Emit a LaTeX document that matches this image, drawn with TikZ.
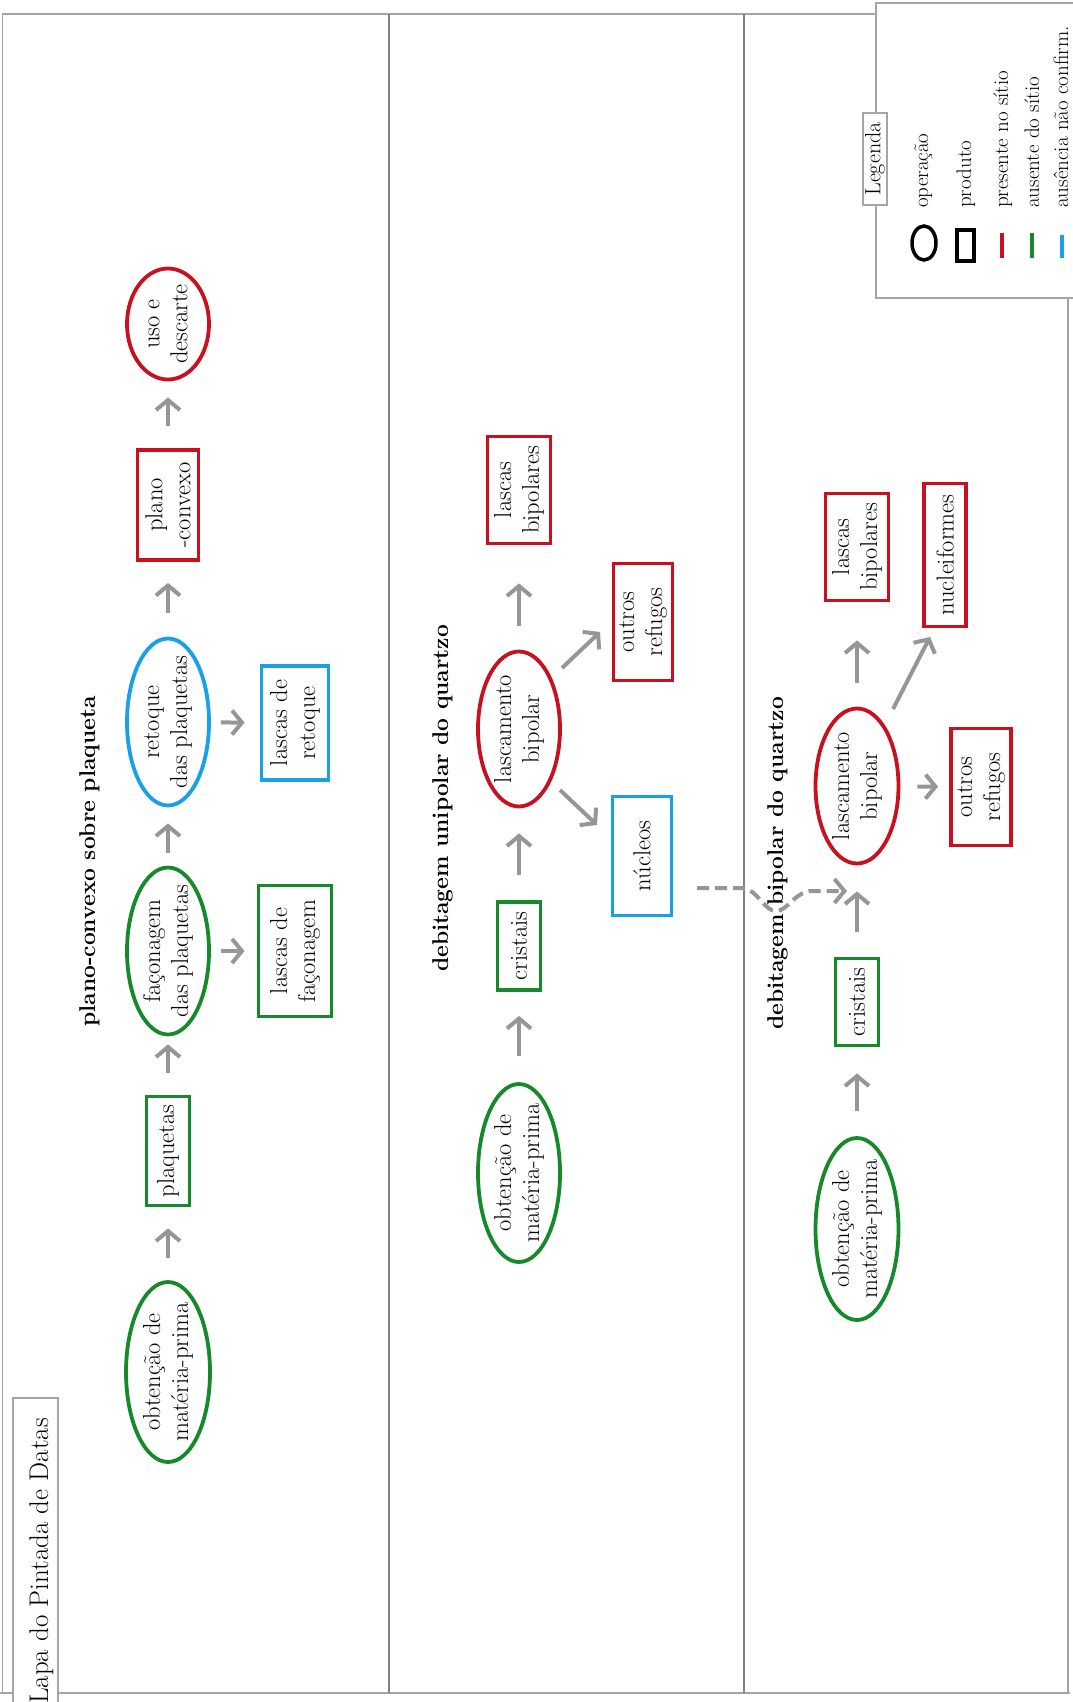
\documentclass[tikz,border=0pt]{standalone}
\usepackage{fontspec}
\usetikzlibrary{shapes.geometric,arrows.meta,calc}
\definecolor{cred}{RGB}{200,16,30}
\definecolor{cgreen}{RGB}{22,138,42}
\definecolor{cblue}{RGB}{25,160,230}
\definecolor{arrgray}{RGB}{150,150,150}
\definecolor{framegray}{RGB}{165,165,165}
\definecolor{divgray}{RGB}{130,130,130}
\newcommand\fbody{\fontsize{24.5}{28}\selectfont}
\newcommand\flegend{\fontsize{21}{25}\selectfont}
\newcommand\fsec{\fontsize{22.8}{27}\selectfont\bfseries}
\newcommand\ftitle{\fontsize{27}{31}\selectfont}
\tikzset{
  op/.style={ellipse, draw=#1, line width=3.8pt, rotate=90, align=center, inner xsep=-12pt, inner ysep=-4pt, font=\fbody},
  prod/.style={rectangle, draw=#1, line width=3.8pt, rotate=90, align=center, inner sep=0pt, font=\fbody},
  sz/.style 2 args={minimum width=#2-3pt, minimum height=#1-3pt},
  arr/.style={draw=arrgray, line width=4pt, -{Straight Barb[length=10pt,width=24pt]}},
  dasharr/.style={arr, dash pattern=on 12pt off 6pt},
  lgtxt/.style={rotate=90, inner sep=0pt, font=\flegend, anchor=base west},
  sectxt/.style={rotate=90, inner sep=0pt, font=\fsec, anchor=base west},
}
\begin{document}
\begin{tikzpicture}[x=1pt,y=-1pt]
\useasboundingbox (0,0) rectangle (1072,1702);
\fill[white] (0,0) rectangle (1072,1702);
% frame
\draw[framegray, line width=2pt] (2,14) -- (876,14);
\draw[framegray, line width=2pt] (0,1693) -- (1070,1693);
\draw[framegray, line width=1pt] (2,14) -- (2,1693);
\draw[divgray, line width=1.5pt] (389,14) -- (389,1693);
\draw[divgray, line width=1.5pt] (744,14) -- (744,1693);
\draw[framegray, line width=1.5pt] (1068,298) -- (1068,1693);
% legend
\draw[framegray, line width=1.5pt, fill=white] (876,3) rectangle (1085,298);
\node[draw=framegray, line width=1.2pt, fill=white, rotate=90, inner sep=2pt, minimum width=92pt, minimum height=24pt, font=\fontsize{22}{26}\selectfont] (lgtitle) at (875,159) {Legenda};
\node[draw=black, line width=3.5pt, ellipse, minimum width=24pt, minimum height=34pt, inner sep=0pt] (lgop) at (924,243) {};
\node[draw=black, line width=4pt, rectangle, minimum width=17pt, minimum height=31pt, inner sep=0pt] (lgprod) at (965,245) {};
\draw[cred, line width=4pt] (1002,233) -- (1002,258);
\draw[cgreen, line width=4pt] (1032,233) -- (1032,258);
\draw[cblue, line width=4pt] (1062,235) -- (1062,258);
\node[lgtxt] (lg1) at (928,208) {operação};
\node[lgtxt] (lg2) at (971,208) {produto};
\node[lgtxt] (lg3) at (1008,208) {presente no sítio};
\node[lgtxt] (lg4) at (1039,208) {ausente do sítio};
\node[lgtxt] (lg5) at (1068,208) {ausência não confirm.};
% title
\draw[framegray, line width=1.5pt, fill=white] (13,1398) rectangle (58,1720);
\node[rotate=90, inner sep=0pt, font=\ftitle, anchor=base west] (title) at (48,1704) {Lapa do Pintada de Datas};
% column 1
\node[sectxt] (s1) at (95,1027) {plano-convexo sobre plaqueta};
\node[op=cgreen, sz={87}{183}] (ob1) at (168,1372) {obtenção de\\matéria-prima};
\node[prod=cgreen, sz={46}{112}] (plq) at (168,1151) {plaquetas};
\node[op=cgreen, sz={85}{170}] (fac) at (168,951) {façonagem\\das plaquetas};
\node[prod=cgreen, sz={76}{134}] (lfac) at (295,951) {lascas de\\façonagem};
\node[op=cblue, sz={85}{170}] (ret) at (168,722) {retoque\\das plaquetas};
\node[prod=cblue, sz={70}{117}] (lret) at (295,723) {lascas de\\retoque};
\node[prod=cred, sz={64}{113}] (pc) at (168,505) {plano\\-convexo};
\node[op=cred, sz={85}{114}] (uso) at (168,324) {uso e\\descarte};
\draw[arr, shorten <=22pt, shorten >=21pt] (ob1) -- (plq);
\draw[arr, shorten <=22pt, shorten >=8pt] (plq) -- (fac);
\draw[arr, shorten <=10pt, shorten >=12pt] (fac) -- (lfac);
\draw[arr, shorten <=13pt, shorten >=16pt] (fac) -- (ret);
\draw[arr, shorten <=10pt, shorten >=15pt] (ret) -- (lret);
\draw[arr, shorten <=24pt, shorten >=21pt] (ret) -- (pc);
\draw[arr, shorten <=22pt, shorten >=16pt] (pc) -- (uso);
% column 2
\node[sectxt] (s2) at (448,972) {debitagem unipolar do quartzo};
\node[op=cgreen, sz={85}{181}] (ob2) at (519,1173) {obtenção de\\matéria-prima};
\node[prod=cgreen, sz={46}{91}] (cr2) at (519,946) {cristais};
\node[op=cred, sz={85}{158}] (l2) at (519,729) {lascamento\\bipolar};
\node[prod=cred, sz={66}{110}] (lb2) at (519,490) {lascas\\bipolares};
\node[prod=cred, sz={62}{120}] (or2) at (643,622) {outros\\refugos};
\node[prod=cblue, sz={62}{122}] (nu) at (642,856) {núcleos};
\draw[arr, shorten <=26pt, shorten >=24pt] (ob2) -- (cr2);
\draw[arr, shorten <=25pt, shorten >=25pt] (cr2) -- (l2);
\draw[arr, shorten <=24pt, shorten >=38pt] (l2) -- (lb2);
\draw[arr] ($(l2.center)+(43,-61)$) -- ($(or2.center)+(-43,10)$);
\draw[arr] ($(l2.center)+(41,61)$) -- ($(nu.center)+(-45,-31)$);
% column 3
\node[op=cgreen, sz={86}{185}] (ob3) at (857,1229) {obtenção de\\matéria-prima};
\node[prod=cgreen, sz={46}{90}] (cr3) at (857,1002) {cristais};
\node[op=cred, sz={86}{158}] (l3) at (857,786) {lascamento\\bipolar};
\node[prod=cred, sz={66}{110}] (lb3) at (857,547) {lascas\\bipolares};
\node[prod=cred, sz={45}{146}] (nf) at (945,555) {nucleiformes};
\node[prod=cred, sz={63}{120}] (or3) at (981,787) {outros\\refugos};
\draw[arr, shorten <=25pt, shorten >=26pt] (ob3) -- (cr3);
\draw[arr, shorten <=25pt, shorten >=26pt] (cr3) -- (l3);
\draw[arr, shorten <=24pt, shorten >=38pt] (l3) -- (lb3);
\draw[arr] ($(l3.center)+(36,-77)$) -- ($(nf.center)+(-15,82)$);
\draw[arr, shorten <=17pt, shorten >=11pt] (l3) -- (or3);
% dashed link
\coordinate (dA) at ($(nu.center)+(55,32)$);
\coordinate (dB) at ($(l3.center)+(-10,105)$);
\draw[dasharr] (dA) -- (743,888) .. controls (758,890) and (764,911) .. (776,911) .. controls (788,911) and (795,891) .. (812,891) -- (dB);
\node[sectxt] (s3) at (783,1030) {debitagem bipolar do quartzo};
\end{tikzpicture}
\end{document}
